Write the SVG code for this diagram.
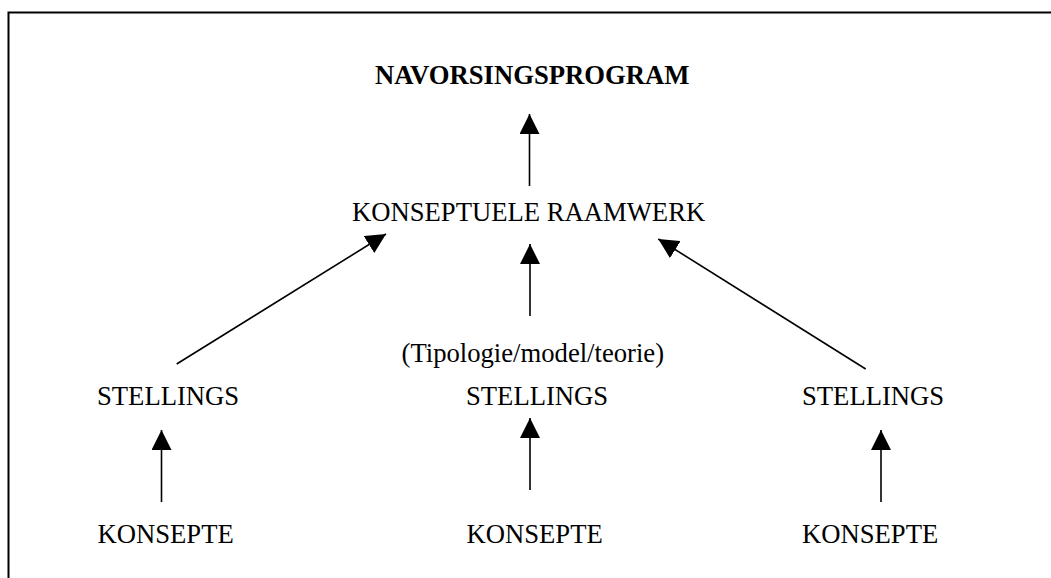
<svg xmlns="http://www.w3.org/2000/svg" width="1051" height="578" viewBox="0 0 1051 578">
<style>
.t{font-family:"Liberation Serif","Times New Roman",serif;font-size:26.67px;fill:#000}
.b{font-weight:bold}
.c{stroke:#000;stroke-width:1.6;fill:none}
</style>
<defs>
<marker id="ah" markerUnits="userSpaceOnUse" markerWidth="20" markerHeight="20" refX="20" refY="10" orient="auto">
<path d="M0,0 L20,10 L0,20 z" fill="#000"/>
</marker>
</defs>
<rect width="1051" height="578" fill="#fff"/>
<path d="M8.5,578 V12.5 H1051" stroke="#000" stroke-width="2" fill="none"/>
<g id="navorsingsprogram"><text class="t b" x="375" y="84">NAVORSINGSPROGRAM</text></g>
<g id="raamwerk"><text class="t" x="352" y="221">KONSEPTUELE RAAMWERK</text></g>
<g id="tipologie"><text class="t" x="401.5" y="362">(Tipologie/model/teorie)</text></g>
<g id="stellings1"><text class="t" x="97" y="405">STELLINGS</text></g>
<g id="stellings2"><text class="t" x="466" y="405">STELLINGS</text></g>
<g id="stellings3"><text class="t" x="802" y="405">STELLINGS</text></g>
<g id="konsepte1"><text class="t" x="97.5" y="543">KONSEPTE</text></g>
<g id="konsepte2"><text class="t" x="466.5" y="543">KONSEPTE</text></g>
<g id="konsepte3"><text class="t" x="802" y="543">KONSEPTE</text></g>
<g id="connectors" class="c" marker-end="url(#ah)">
<line x1="529.5" y1="186" x2="529.5" y2="114"/>
<line x1="530" y1="316" x2="530" y2="244"/>
<line x1="176.7" y1="364" x2="386" y2="234"/>
<line x1="865.7" y1="369" x2="658.3" y2="239"/>
<line x1="161.5" y1="502" x2="161.5" y2="430"/>
<line x1="530" y1="490" x2="530" y2="418"/>
<line x1="881" y1="502" x2="881" y2="430"/>
</g>
</svg>
